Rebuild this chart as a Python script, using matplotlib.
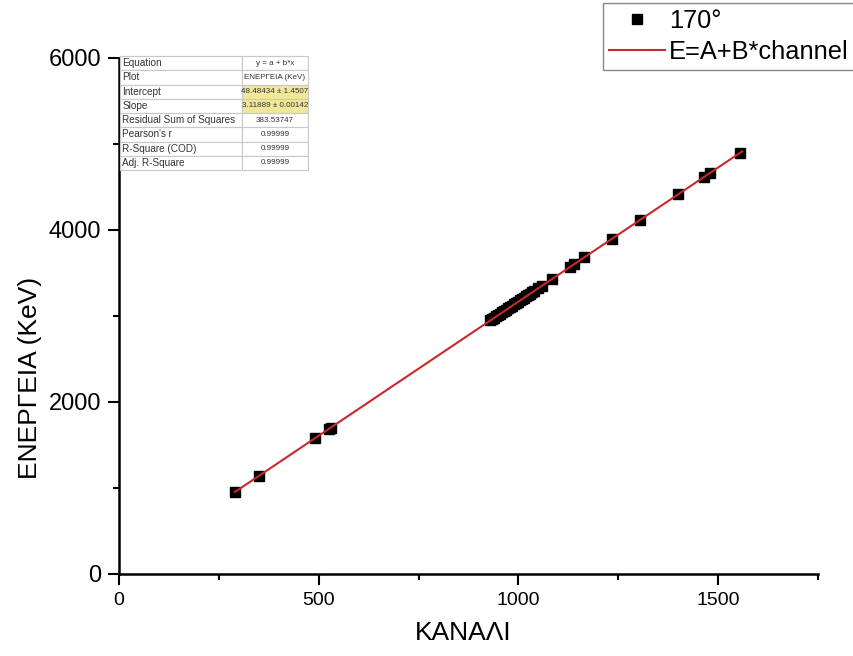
import matplotlib.pyplot as plt
from matplotlib.ticker import MultipleLocator

plt.rcParams['font.family'] = ['Liberation Sans', 'DejaVu Sans']

# kanaly i energie punktow pomiarowych (170 stopni)
channels = [290, 350, 490, 525, 530,
            930, 935, 940, 945, 950, 955, 960, 965, 970, 975, 980, 985, 990, 995,
            1000, 1005, 1010, 1015, 1020, 1025, 1030, 1035, 1040, 1050, 1060,
            1085, 1130, 1140, 1165, 1235, 1305, 1400, 1465, 1480, 1555]
energies = [953, 1140, 1577, 1686, 1702,
            2949, 2965, 2980, 2996, 3011, 3027, 3043, 3058, 3074, 3089, 3105, 3120, 3136, 3152,
            3167, 3183, 3198, 3214, 3230, 3245, 3261, 3276, 3292, 3323, 3354,
            3432, 3573, 3604, 3682, 3900, 4119, 4415, 4618, 4665, 4898]

# parametry dopasowania
intercept = 48.48434
slope = 3.11889
fit_x = [290, 1560]
fit_y = [intercept + slope * x for x in fit_x]

table_labels = ['Equation', 'Plot', 'Intercept', 'Slope', 'Residual Sum of Squares',
                "Pearson's r", 'R-Square (COD)', 'Adj. R-Square']
table_values = ['y = a + b*x', 'ΕΝΕΡΓΕΙΑ (KeV)', '48.48434 ± 1.4507', '3.11889 ± 0.00142',
                '383.53747', '0.99999', '0.99999', '0.99999']

fig = plt.figure(figsize=(8.54, 6.56), dpi=100)
ax = fig.add_axes([119/854, 1-574/656, 699/854, 516/656])

ax.plot(channels, energies, 's', color='black', markersize=7.5, label='170°', zorder=2)
ax.plot(fit_x, fit_y, color='#c8282c', linewidth=1.5, label='E=A+B*channel', zorder=3)

ax.set_xlim(0, 1750)
ax.set_ylim(0, 6000)
ax.xaxis.set_major_locator(MultipleLocator(500))
ax.xaxis.set_minor_locator(MultipleLocator(250))
ax.yaxis.set_major_locator(MultipleLocator(2000))
ax.yaxis.set_minor_locator(MultipleLocator(1000))

for s in ['top', 'right']:
    ax.spines[s].set_visible(False)
for s in ['left', 'bottom']:
    ax.spines[s].set_linewidth(1.8)
ax.tick_params(which='major', length=8, width=1.5, direction='out', pad=5)
ax.tick_params(which='minor', length=4, width=1.5, direction='out')
ax.tick_params(axis='x', labelsize=14)
ax.tick_params(axis='y', labelsize=17)

ax.set_xlabel('ΚΑΝΑΛΙ', fontsize=19)
ax.set_ylabel('ΕΝΕΡΓΕΙΑ (KeV)', fontsize=19)
ax.xaxis.set_label_coords(0.492, -0.114)
ax.yaxis.set_label_coords(-0.127, 0.38)
ax.xaxis.label.set_va('center')
ax.yaxis.label.set_va('center')

# tabelka z wynikami dopasowania
tax = fig.add_axes([120/854, 1-170/656, 188/854, 114/656])
tax.axis('off')
cells = [[l, v] for l, v in zip(table_labels, table_values)]
tab = tax.table(cellText=cells, bbox=[0, 0, 1, 1], colWidths=[122, 66], cellLoc='left')
tab.auto_set_font_size(False)
for (r, c), cell in tab.get_celld().items():
    cell.set_edgecolor('#c8c8c8')
    cell.set_linewidth(0.8)
    cell.get_text().set_color('#333333')
    cell.PAD = 0.02
    if c == 0:
        cell.get_text().set_fontsize(7.2)
    else:
        cell.get_text().set_fontsize(5.8)
        cell.get_text().set_ha('center')
        cell._loc = 'center'
    if c == 1 and r in (2, 3):
        cell.set_facecolor('#f1e79a')

fig.legend(loc='upper left', bbox_to_anchor=(603/854, 1-3/656), fontsize=18.3,
           frameon=True, fancybox=False, edgecolor='#888888', framealpha=1,
           borderpad=0.25, handlelength=2.2, handletextpad=0.15, labelspacing=0.25,
           borderaxespad=0)

fig.savefig('out.png', dpi=100)
